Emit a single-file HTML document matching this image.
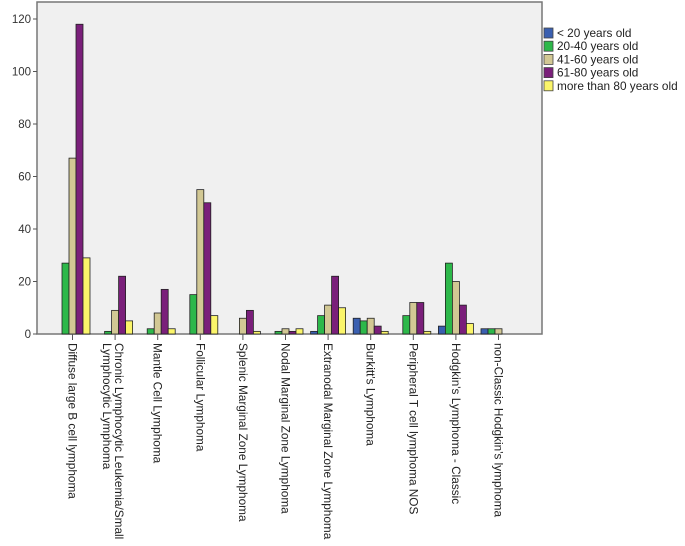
<!DOCTYPE html>
<html><head><meta charset="utf-8"><style>
body{margin:0;background:#fff;}
svg{display:block;font-family:"Liberation Sans",sans-serif;}
</style></head><body>
<svg id="chart" width="685" height="546" viewBox="0 0 685 546">
<rect x="37" y="2" width="505" height="332" fill="#f0f0f0" stroke="#777" stroke-width="1.5"/>
<g id="yaxis"></g>
<g id="bars"></g>
<g id="xaxis"></g>
<g id="legend"></g>
</svg>
<script>
const categories=[["Diffuse large B cell lymphoma"],["Chronic Lymphocytic Leukemia/Small","Lymphocytic Lymphoma"],["Mantle Cell Lymphoma"],["Follicular Lymphoma"],["Splenic Marginal Zone Lymphoma"],["Nodal Marginal Zone Lymphoma"],["Extranodal Marginal Zone Lymphoma"],["Burkitt's Lymphoma"],["Peripheral T cell lymphoma NOS"],["Hodgkin's Lymphoma - Classic"],["non-Classic Hodgkin's lymphoma"]];
const seriesNames=["< 20 years old","20-40 years old","41-60 years old","61-80 years old","more than 80 years old"];
const under20=[0,0,0,0,0,0,1,6,0,3,2];
const age20to40=[27,1,2,15,0,1,7,5,7,27,2];
const age41to60=[67,9,8,55,6,2,11,6,12,20,2];
const age61to80=[118,22,17,50,9,1,22,3,12,11,0];
const over80=[29,5,2,7,1,2,10,1,1,4,0];
const yTicks=[0,20,40,60,80,100,120];
const colors=["#3a5fb0","#2db84a","#d2c894","#7a1f7a","#fbf56a"];
const series=[under20,age20to40,age41to60,age61to80,over80];
const NS="http://www.w3.org/2000/svg";
const x0=72.5,step=42.6,bw=7,yb=334,yScale=(334-19)/120;
const y=v=>yb-v*yScale;
const xc=i=>x0+i*step;
function mk(tag,attrs,parent){const e=document.createElementNS(NS,tag);for(const k in attrs)e.setAttribute(k,attrs[k]);parent.appendChild(e);return e;}
const ya=document.getElementById('yaxis'),bg=document.getElementById('bars'),xa=document.getElementById('xaxis'),lg=document.getElementById('legend');
yTicks.forEach(t=>{
  const l=mk('line',{x1:33,x2:37,y1:y(t),y2:y(t),stroke:'#555'},ya);
  
  
  const tx=mk('text',{x:31,y:y(t)+4,'text-anchor':'end','font-size':11.5,fill:'#333'},ya);
  tx.textContent=t;
  
  
});
categories.forEach((c,i)=>{
  series.forEach((s,j)=>{
    const v=s[i]; if(!v) return;
    const r=mk('rect',{x:xc(i)-2.5*bw+j*bw,y:y(v),width:bw,height:v*yScale,fill:colors[j],stroke:'#222','stroke-width':0.8},bg);
    
    
  });
  const tk=mk('line',{x1:xc(i),x2:xc(i),y1:334,y2:340,stroke:'#555'},xa);
  
  
  c.forEach((line,k)=>{
    const off=c.length>1?(k===0?4:-8):0;
    const t=mk('text',{transform:`translate(${xc(i)+off},343) rotate(90)`,'dominant-baseline':'central','font-size':11.8,fill:'#222'},xa);
    t.textContent=line;
    
    
  });
});
seriesNames.forEach((n,j)=>{
  const yy=33+j*13.2;
  const r=mk('rect',{x:544,y:yy-5,width:9,height:10,fill:colors[j],stroke:'#444','stroke-width':0.8},lg);
  
  
  const t=mk('text',{x:557,y:yy+4,'font-size':11.8,fill:'#222'},lg);
  t.textContent=n;
  
  
});
</script>
</body></html>
